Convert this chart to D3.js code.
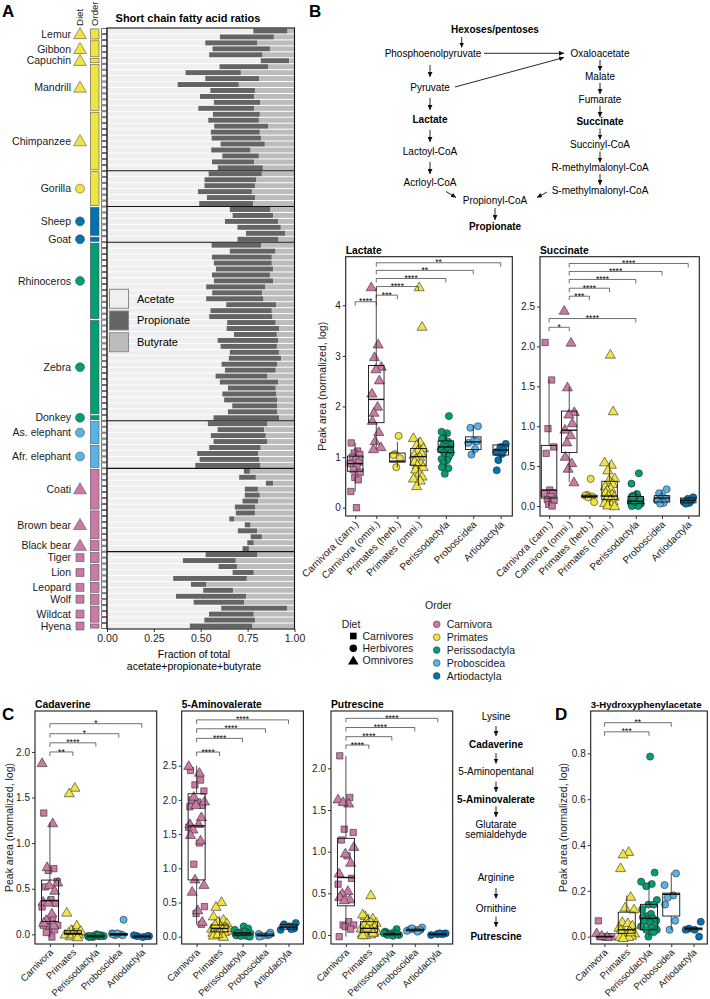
<!DOCTYPE html>
<html><head><meta charset="utf-8">
<script src="https://cdn.jsdelivr.net/npm/d3@7"></script>
<style>
body{margin:0;background:#fff;}
svg{font-family:"Liberation Sans", Arial, Helvetica, sans-serif;}
</style></head><body>
<svg id="fig" width="710" height="999"></svg>
<script>
// ================= DATA =================
// Panel A
const species = ["Lemur","Gibbon","Capuchin","Mandrill","Chimpanzee","Gorilla","Sheep","Goat","Rhinoceros","Zebra","Donkey","As. elephant","Afr. elephant","Coati","Brown bear","Black bear","Tiger","Lion","Leopard","Wolf","Wildcat","Hyena"];
const speciesSamples = [2,3,1,8,10,6,5,1,13,16,1,4,4,7,5,2,2,3,2,2,3,1];
const speciesOrder = ["Primates","Primates","Primates","Primates","Primates","Primates","Artiodactyla","Artiodactyla","Perissodactyla","Perissodactyla","Perissodactyla","Proboscidea","Proboscidea","Carnivora","Carnivora","Carnivora","Carnivora","Carnivora","Carnivora","Carnivora","Carnivora","Carnivora"];
const speciesDiet = ["Omnivores","Omnivores","Omnivores","Omnivores","Omnivores","Herbivores","Herbivores","Herbivores","Herbivores","Herbivores","Herbivores","Herbivores","Herbivores","Omnivores","Omnivores","Omnivores","Carnivores","Carnivores","Carnivores","Carnivores","Carnivores","Carnivores"];
const groupBreakAfter = ["Chimpanzee","Gorilla","Goat","Donkey","Afr. elephant","Black bear"];
const acetate = [0.78,0.602,0.524,0.563,0.545,0.82,0.60,0.419,0.524,0.377,0.551,0.496,0.570,0.487,0.565,0.54,0.572,0.554,0.558,0.606,0.556,0.615,0.56,0.591,
0.542,0.52,0.52,0.485,0.533,0.492,
0.655,0.67,0.629,0.696,0.741,0.696,
0.558,0.655,0.56,0.57,0.581,0.56,0.57,0.529,0.561,0.529,0.636,0.552,0.545,
0.641,0.638,0.677,0.59,0.606,0.655,0.65,0.611,0.629,0.579,0.602,0.645,0.615,0.625,0.668,0.645,
0.568,
0.538,0.59,0.554,0.568,0.545,0.481,0.494,0.471,
0.73,0.705,0.847,0.735,0.735,0.723,0.682,0.687,0.652,0.735,0.698,0.766,0.748,0.723,
0.526,0.405,0.595,0.67,0.353,0.448,0.513,0.368,0.462,0.609,0.544,0.519,0.442];
const propionate = [0.183,0.288,0.276,0.306,0.285,0.152,0.26,0.295,0.288,0.326,0.238,0.289,0.247,0.298,0.25,0.27,0.288,0.261,0.264,0.236,0.21,0.195,0.225,0.24,
0.284,0.277,0.269,0.288,0.257,0.288,
0.217,0.216,0.284,0.231,0.209,0.219,
0.264,0.244,0.319,0.309,0.305,0.309,0.316,0.316,0.267,0.306,0.266,0.327,0.338,
0.259,0.28,0.229,0.323,0.30,0.262,0.279,0.298,0.271,0.277,0.311,0.255,0.289,0.284,0.241,0.264,
0.35,
0.318,0.248,0.293,0.288,0.275,0.325,0.319,0.348,
0.032,0.089,0.039,0.07,0.08,0.083,0.11,0.102,0.028,0.031,0.103,0.06,0.035,0.034,
0.277,0.282,0.098,0.113,0.393,0.08,0.16,0.374,0.27,0.353,0.239,0.27,0.334];
const acidNames = ["Acetate","Propionate","Butyrate"];
const xTicksA = [0,0.25,0.5,0.75,1];

// Panel B
const bCats = ["Carnivora (carn.)","Carnivora (omni.)","Primates (herb.)","Primates (omni.)","Perissodactyla","Proboscidea","Artiodactyla"];
const bOrders = ["Carnivora","Carnivora","Primates","Primates","Perissodactyla","Proboscidea","Artiodactyla"];
const lactatePoints = [
 [0,"square",[1.28,1.12,1.08,1.05,1.0,0.95,0.9,0.87,0.82,0.75,0.7,0.6,0.55,0.32,0.0]],
 [1,"triangle",[4.36,3.23,2.98,2.79,2.74,2.52,2.26,2.0,1.88,1.72,1.5,1.32,1.2,1.16]],
 [2,"circle",[1.42,1.06,1.04,0.98,0.8]],
 [3,"triangle",[4.36,3.58,1.38,1.3,1.24,1.18,1.14,1.08,1.05,1.01,0.97,0.92,0.88,0.85,0.81,0.76,0.68,0.62,0.58,0.54,0.43]],
 [4,"circle",[1.81,1.5,1.47,1.37,1.36,1.3,1.27,1.24,1.22,1.2,1.17,1.15,1.14,1.09,1.08,1.05,1.01,0.96,0.94,0.88,0.8,0.78,0.67]],
 [5,"circle",[1.61,1.58,1.32,1.31,1.28,1.16,1.05]],
 [6,"circle",[1.26,1.2,1.14,1.1,1.06,0.94,0.74]]
];
const lactateBoxes = [[0.72,0.87,1.02,0.32,1.28],[1.68,2.14,2.81,1.16,4.36],[0.9,0.92,1.08,0.8,1.3],[0.83,1.01,1.17,0.43,1.38],[1.09,1.2,1.32,0.78,1.5],[1.15,1.3,1.4,1.05,1.63],[1.04,1.14,1.24,0.94,1.26]];
const lactateSig = [[0,1,4.07,"****"],[1,2,4.2,"***"],[1,3,4.37,"****"],[1,4,4.53,"****"],[1,5,4.69,"**"],[1,6,4.84,"**"]];
const succinatePoints = [
 [0,"square",[2.05,1.58,0.97,0.74,0.66,0.2,0.16,0.16,0.12,0.08,0.07,0.02,0.0]],
 [1,"triangle",[2.45,2.05,1.49,1.18,1.15,1.04,0.96,0.89,0.8,0.62,0.54,0.47,0.3]],
 [2,"circle",[0.34,0.14,0.13,0.12,0.11,0.05]],
 [3,"triangle",[1.9,1.19,0.55,0.52,0.45,0.35,0.33,0.28,0.25,0.22,0.2,0.17,0.15,0.13,0.12,0.1,0.08,0.06,0.04,0.02,0.01,0.0]],
 [4,"circle",[0.41,0.28,0.15,0.13,0.12,0.1,0.09,0.08,0.07,0.06,0.06,0.05,0.04,0.04,0.03,0.03,0.02,0.02,0.01,0.01,0.0,0.0,0.05,0.08,0.11]],
 [5,"circle",[0.21,0.16,0.12,0.09,0.07,0.04,0.03]],
 [6,"circle",[0.11,0.09,0.07,0.05,0.04,0.03]]
];
const succinateBoxes = [[0.1,0.2,0.76,0.0,1.58],[0.67,0.95,1.19,0.3,1.49],[0.11,0.12,0.135,0.1,0.14],[0.08,0.125,0.31,0.0,0.55],[0.03,0.06,0.12,0.0,0.2],[0.05,0.1,0.13,0.03,0.21],[0.04,0.07,0.1,0.03,0.11]];
const succinateSig = [[1,6,3.04,"****"],[1,5,2.94,"****"],[1,4,2.84,"****"],[1,3,2.73,"****"],[1,2,2.63,"***"],[0,4,2.35,"****"],[0,1,2.24,"*"]];

// Panel C / D
const cCats = ["Carnivora","Primates","Perissodactyla","Proboscidea","Artiodactyla"];
const cadaverinePoints = [
 [0,"square",[1.33,0.72,0.70,0.58,0.52,0.38,0.34,0.30,0.18,0.14,0.10,0.05,0.05,0.1,-0.03,0.02]],
 [0,"triangle",[1.88,1.22,0.74,0.57,0.54,0.48,0.36,0.23,0.16,0.13,0.1,0.35]],
 [1,"triangle",[1.61,1.55,0.24,0.1,0.05,0.03,0.02,0.01,0.0,0.0,-0.01,-0.02,0.04,0.0,-0.03]],
 [2,"circle",[0.0,-0.01,-0.02,-0.02,-0.03,-0.02,-0.01,-0.02,-0.03,-0.01,-0.02,-0.02]],
 [3,"circle",[0.16,0.01,0.0,-0.01,0.0,-0.01,0.01]],
 [4,"circle",[-0.02,-0.02,-0.03,-0.02,-0.01]]
];
const cadaverineBoxes = [[0.14,0.37,0.595,-0.03,1.23],[0.0,0.01,0.04,-0.03,0.1],[-0.03,-0.02,-0.01,-0.03,0.0],[-0.01,0.0,0.01,-0.01,0.01],[-0.03,-0.02,-0.02,-0.03,-0.01]];
const cadaverineSig = [[0,4,2.31,"*"],[0,3,2.2,"*"],[0,2,2.1,"****"],[0,1,2.0,"**"]];
const aminovaleratePoints = [
 [0,"square",[2.43,2.29,2.22,2.13,2.0,1.97,1.92,1.6,1.37,1.06,0.44,0.34,0.18,1.9]],
 [0,"triangle",[2.5,2.4,2.05,1.98,1.93,1.75,1.65,1.65,1.57,1.49,1.41,0.84,0.76,0.66,0.39,0.22]],
 [1,"triangle",[0.51,0.44,0.3,0.25,0.22,0.2,0.17,0.15,0.14,0.12,0.11,0.1,0.09,0.08,0.07,0.06,0.05,0.03,0.02,0.0,0.04,0.13,0.18]],
 [2,"circle",[0.15,0.12,0.1,0.08,0.06,0.05,0.04,0.04,0.03,0.03,0.02,0.02,0.01,0.01,0.0,0.05,0.07]],
 [3,"circle",[0.06,0.04,0.02,0.01,0.0,0.03]],
 [4,"circle",[0.2,0.18,0.15,0.12,0.1,0.11]]
];
const aminovalerateBoxes = [[0.83,1.62,2.09,0.18,2.5],[0.07,0.12,0.17,0.0,0.3],[0.02,0.04,0.06,0.0,0.1],[0.01,0.02,0.04,0.0,0.06],[0.11,0.14,0.18,0.1,0.2]];
const aminovalerateSig = [[0,4,3.17,"****"],[0,3,3.04,"****"],[0,2,2.9,"****"],[0,1,2.7,"****"]];
const putrescinePoints = [
 [0,"square",[2.15,1.65,1.27,1.23,1.14,0.95,0.68,0.61,0.16,0.12,0.12,0.1,0.07,-0.02]],
 [0,"triangle",[1.63,1.58,1.6,1.06,0.98,0.87,0.74,0.53,0.5,0.46,0.43,0.42]],
 [1,"triangle",[0.48,0.23,0.25,0.2,0.18,0.15,0.13,0.12,0.1,0.08,0.07,0.06,0.05,0.04,0.03,0.02,0.01,0.0,0.0,0.03,0.09]],
 [1,"circle",[0.16]],
 [2,"circle",[0.07,0.04,0.03,0.02,0.02,0.01,0.01,0.0,0.0,-0.01,0.01,0.02]],
 [3,"circle",[0.09,0.07,0.06,0.06,0.05,0.04,0.08]],
 [4,"circle",[0.02,0.01,0.01,0.0,0.02]]
];
const putrescineBoxes = [[0.35,0.69,1.16,-0.02,2.15],[0.03,0.08,0.16,0.0,0.25],[0.0,0.01,0.02,-0.01,0.04],[0.05,0.06,0.07,0.04,0.09],[0.0,0.01,0.015,0.0,0.02]];
const putrescineSig = [[0,4,2.6,"****"],[0,3,2.49,"****"],[0,2,2.38,"****"],[0,1,2.28,"****"]];
const hpaPoints = [
 [0,"square",[0.069,0.0,0.0,0.0,0.0,-0.002]],
 [0,"triangle",[0.016,0.0,0.005]],
 [1,"triangle",[0.371,0.36,0.30,0.175,0.128,0.12,0.065,0.06,0.05,0.04,0.025,0.02,0.015,0.01,0.005,0.0,0.0,-0.005,0.03,0.02]],
 [2,"circle",[0.786,0.28,0.24,0.23,0.22,0.16,0.14,0.14,0.12,0.1,0.09,0.085,0.08,0.075,0.07,0.065,0.06,0.05,0.045,0.04,0.03,0.03,0.0,0.02]],
 [3,"circle",[0.276,0.225,0.18,0.17,0.14,0.07,0.03]],
 [4,"circle",[0.065,0.035,0.03,0.0,0.03]]
];
const hpaBoxes = [[0.0,0.0,0.002,0.0,0.005],[0.015,0.03,0.107,0.0,0.18],[0.03,0.08,0.141,0.0,0.24],[0.09,0.185,0.19,0.03,0.28],[0.03,0.035,0.038,0.03,0.04]];
const hpaSig = [[0,3,0.934,"**"],[0,2,0.894,"***"]];

const dietKeys = ["Carnivores","Herbivores","Omnivores"];
const orderKeys = ["Carnivora","Primates","Perissodactyla","Proboscidea","Artiodactyla"];

// ================= STYLE / LAYOUT =================
const FONT = '"Liberation Sans", Arial, Helvetica, sans-serif';
const orderColors = {Carnivora:"#CC79A7",Primates:"#F0E442",Perissodactyla:"#009E73",Proboscidea:"#56B4E9",Artiodactyla:"#0072B2"};
const acidColors = ["#efefef","#646464","#bcbcbc"];
const dietShape = {Carnivores:"square",Herbivores:"circle",Omnivores:"triangle"};
const symType = {square:d3.symbolSquare,circle:d3.symbolCircle,triangle:d3.symbolTriangle};
const symSize = {square:40,circle:40,triangle:44};
const sym = (s,k=1)=>d3.symbol().type(symType[s]).size(symSize[s]*k)();
const J = [-0.22,0.14,-0.06,0.26,-0.16,0.04,0.2,-0.28,0.1,-0.1,0.28,-0.02,0.17,-0.24,0.07,-0.13];

const svg = d3.select("#fig").attr("font-family",FONT);

// panel letters
[["A",2,17],["B",309,17],["C",2,720],["D",555,720]].forEach(([t,x,y])=>{
  svg.append("text").attr("x",x).attr("y",y).attr("font-size",17).attr("font-weight","bold").text(t);
});

// ================= PANEL A =================
(function(){
  const L=107, R=294.5, T=28, B=629;
  const x = d3.scaleLinear().domain([0,1]).range([L,R]);
  const yRow = d3.scaleBand().domain(d3.range(acetate.length)).range([T,B]);
  const bw = yRow.bandwidth();
  const g = svg.append("g");
  acetate.forEach((a,i)=>{
    const p = propionate[i];
    const segs = [[0,a],[a,a+p],[a+p,1]];
    segs.forEach((s,k)=>{
      g.append("rect").attr("x",x(s[0])).attr("width",Math.max(0,x(s[1])-x(s[0])))
       .attr("y",yRow(i)+0.5).attr("height",bw-1).attr("fill",acidColors[k]);
    });
    g.append("rect").attr("x",101.7).attr("width",5.3).attr("y",yRow(i)+0.5).attr("height",bw-1)
      .attr("fill","#fff").attr("stroke","#333").attr("stroke-width",0.7);
  });
  let start=0;
  species.forEach((sp,si)=>{
    const n = speciesSamples[si];
    const y0 = yRow(start), y1 = yRow(start+n-1)+bw, yc=(y0+y1)/2;
    g.append("rect").attr("x",90.3).attr("width",8.7).attr("y",y0+0.9).attr("height",y1-y0-1.8)
     .attr("fill",orderColors[speciesOrder[si]]).attr("stroke","#555").attr("stroke-width",0.6);
    const sh = dietShape[speciesDiet[si]];
    g.append("path").attr("d",sym(sh,1.6)).attr("transform",`translate(80,${yc+(sh==="triangle"?1:0)})`)
     .attr("fill",orderColors[speciesOrder[si]]).attr("stroke","#555").attr("stroke-width",0.6);
    g.append("text").attr("x",71).attr("y",yc).attr("dy","0.35em").attr("text-anchor","end")
     .attr("font-size",10.5).attr("fill","#1a1a1a").text(sp);
    start += n;
    if(groupBreakAfter.includes(sp)){
      g.append("line").attr("x1",L).attr("x2",R).attr("y1",yRow(start)).attr("y2",yRow(start))
       .attr("stroke","#111").attr("stroke-width",1.1);
    }
  });
  g.append("rect").attr("x",L).attr("y",T).attr("width",R-L).attr("height",B-T).attr("fill","none").attr("stroke","#111").attr("stroke-width",1.1);
  [["Diet",80],["Order",94.5]].forEach(([t,xx])=>{
    g.append("text").attr("transform",`translate(${xx},26) rotate(-90)`).attr("dy","0.35em")
     .attr("font-size",9.6).attr("fill","#1a1a1a").text(t);
  });
  g.append("text").attr("x",188).attr("y",21.5).attr("text-anchor","middle").attr("font-size",11).attr("font-weight","bold").text("Short chain fatty acid ratios");
  const ax = g.append("g").attr("transform",`translate(0,${B})`).attr("font-family",FONT)
    .call(d3.axisBottom(x).tickValues(xTicksA).tickFormat(d3.format(".2f")).tickSize(3).tickPadding(3));
  ax.select(".domain").remove();
  ax.selectAll("line").attr("stroke","#333");
  ax.selectAll("text").attr("font-size",10.5).attr("fill","#222");
  g.append("text").attr("x",194).attr("y",658).attr("text-anchor","middle").attr("font-size",10.5).text("Fraction of total");
  g.append("text").attr("x",194).attr("y",669.5).attr("text-anchor","middle").attr("font-size",10.5).text("acetate+propionate+butyrate");
  acidNames.forEach((nm,k)=>{
    const yy = 289.3 + k*21.7;
    g.append("rect").attr("x",109.5).attr("y",yy).attr("width",19).attr("height",19).attr("fill",acidColors[k]).attr("stroke","#8a8a8a").attr("stroke-width",1);
    g.append("text").attr("x",137).attr("y",yy+9.5).attr("dy","0.35em").attr("font-size",11).text(nm);
  });
})();

// ================= PANEL B pathway =================
(function(){
  const g = svg.append("g").attr("font-size",10);
  svg.append("defs").append("marker").attr("id","ah").attr("viewBox","0 0 8 8").attr("refX",8).attr("refY",4)
    .attr("markerWidth",5).attr("markerHeight",5).attr("markerUnits","userSpaceOnUse").attr("orient","auto")
    .append("path").attr("d","M0,0L8,4L0,8z").attr("fill","#111");
  const labels = [["Hexoses/pentoses",495,29,1],["Phosphoenolpyruvate",433,53.3,0],["Oxaloacetate",600,53.3,0],["Pyruvate",430,87.3,0],
   ["Lactate",430,119,1],["Lactoyl-CoA",430,151,0],["Acrloyl-CoA",430,182.7,0],["Propionyl-CoA",495,200.7,0],["Propionate",495,226.7,1],
   ["Malate",600,76,0],["Fumarate",600,99,0],["Succinate",600,121.7,1],["Succinyl-CoA",600,144.7,0],["R-methylmalonyl-CoA",600,167.3,0],["S-methylmalonyl-CoA",600,190.3,0]];
  labels.forEach(([t,x,y,b])=>g.append("text").attr("x",x).attr("y",y).attr("dy","0.35em").attr("text-anchor","middle").attr("font-weight",b?"bold":"normal").text(t));
  const arrows = [[461.7,37,461.7,47.5],[484,53.3,564,53.3],[430,65,430,77],[455,87,564,57.5],[430,98,430,110],[430,130,430,142],[430,162,430,174],
    [446,191.5,456,197.5],[547,192,537,197.5],[495,208,495,220],[600,60,600,71],[600,83,600,94],[600,106,600,117],[600,128.5,600,139.5],[600,151.5,600,162.5],[600,174,600,185]];
  arrows.forEach(([x1,y1,x2,y2])=>g.append("line").attr("x1",x1).attr("y1",y1).attr("x2",x2).attr("y2",y2).attr("stroke","#111").attr("stroke-width",0.9).attr("marker-end","url(#ah)"));
})();

// ================= Box panels =================
function drawPanel(cfg){
  const {l,t,r,b} = cfg.frame;
  const y = d3.scaleLinear().domain(cfg.yDomain).range([b,t]);
  const pos = cfg.pos;
  const G = svg.append("g");
  G.append("text").attr("x",l).attr("y",t-3).attr("font-size",cfg.tfs||10.3).attr("font-weight","bold").text(cfg.title);
  cfg.points.forEach((grp,gi)=>{
    const [ci,shape,vals] = grp;
    vals.forEach((v,k)=>{
      const jx = J[(k+gi*7)%J.length]*cfg.jw;
      G.append("path").attr("d",sym(shape)).attr("transform",`translate(${pos(ci)+jx},${y(v)+(shape==="triangle"?0.8:0)})`)
       .attr("fill",orderColors[cfg.orders[ci]]).attr("stroke","#2b2b2b").attr("stroke-width",0.6);
    });
  });
  cfg.boxes.forEach((bx,i)=>{
    const [q1,med,q3,lo,hi] = bx; const cx = pos(i), w = cfg.bw;
    G.append("line").attr("x1",cx).attr("x2",cx).attr("y1",y(q3)).attr("y2",y(hi)).attr("stroke","#222").attr("stroke-width",0.8);
    G.append("line").attr("x1",cx).attr("x2",cx).attr("y1",y(q1)).attr("y2",y(lo)).attr("stroke","#222").attr("stroke-width",0.8);
    G.append("rect").attr("x",cx-w/2).attr("y",y(q3)).attr("width",w).attr("height",Math.max(0.6,y(q1)-y(q3)))
      .attr("fill","none").attr("stroke","#111").attr("stroke-width",0.9);
    G.append("line").attr("x1",cx-w/2).attr("x2",cx+w/2).attr("y1",y(med)).attr("y2",y(med)).attr("stroke","#111").attr("stroke-width",1.4);
  });
  G.append("rect").attr("x",l).attr("y",t).attr("width",r-l).attr("height",b-t).attr("fill","none").attr("stroke","#1a1a1a").attr("stroke-width",1.1);
  const ya = G.append("g").attr("transform",`translate(${l},0)`).attr("font-family",FONT)
    .call(d3.axisLeft(y).tickValues(cfg.yTicks).tickFormat(cfg.fmt).tickSize(3).tickPadding(2));
  ya.select(".domain").remove();
  ya.selectAll("line").attr("stroke","#333");
  ya.selectAll("text").attr("font-size",10).attr("fill","#222");
  const xa = G.append("g").attr("transform",`translate(0,${b})`).attr("font-family",FONT).call(cfg.xAxis.tickSize(3));
  xa.select(".domain").remove();
  xa.selectAll("line").attr("stroke","#333");
  xa.selectAll("text").attr("font-size",cfg.xfs).attr("fill","#222").attr("y",0).attr("x",0).attr("dy","0.35em")
    .attr("transform","translate(1,6.5) rotate(-45)").attr("text-anchor","end");
  cfg.sig.forEach(([a,bb,v,lab])=>{
    const x1=pos(a), x2=pos(bb), yy=y(v);
    G.append("path").attr("d",`M${x1},${yy+4}V${yy}H${x2}V${yy+4}`).attr("fill","none").attr("stroke","#111").attr("stroke-width",0.6);
    G.append("text").attr("x",(x1+x2)/2).attr("y",yy+2.6).attr("text-anchor","middle").attr("font-size",8.5).text(lab);
  });
  if(cfg.ylab){
    G.append("text").attr("transform",`translate(${cfg.ylab},${(t+b)/2}) rotate(-90)`).attr("dy","0.35em")
      .attr("text-anchor","middle").attr("font-size",10.5).attr("fill","#1a1a1a").text("Peak area (normalized, log)");
  }
}

const bSlots = [0,1,2,3,4.3,5.6,6.9];
function bPanel(frame,title,yDomain,yTicks,fmt,points,boxes,sig,ylab){
  const xs = d3.scaleLinear().domain([-0.45,7.45]).range([frame.l,frame.r]);
  drawPanel({frame,title,yDomain,yTicks,fmt,points,boxes,sig,ylab,orders:bOrders,
    pos:i=>xs(bSlots[i]),bw:15.5,jw:18,xfs:10,
    xAxis:d3.axisBottom(xs).tickValues(bSlots).tickFormat((d,i)=>bCats[i])});
}
bPanel({l:345.7,t:256.7,r:512.3,b:516},"Lactate",[-0.164,4.96],[0,1,2,3,4],d3.format("d"),lactatePoints,lactateBoxes,lactateSig,322);
bPanel({l:540,t:256.7,r:699.3,b:516},"Succinate",[-0.125,3.125],[0,0.5,1,1.5,2,2.5],d3.format(".1f"),succinatePoints,succinateBoxes,succinateSig,null);

function cPanel(frame,title,yDomain,yTicks,points,boxes,sig,ylab,pad,tfs){
  const xs = d3.scalePoint().domain(cCats).range([frame.l,frame.r]).padding(pad);
  drawPanel({frame,title,yDomain,yTicks,fmt:d3.format(".1f"),points,boxes,sig,ylab,orders:cCats,tfs,
    pos:i=>xs(cCats[i]),bw:17,jw:28,xfs:9.6,xAxis:d3.axisBottom(xs)});
}
cPanel({l:35,t:711,r:156.7,b:944},"Cadaverine",[-0.106,2.449],[0,0.5,1,1.5,2],cadaverinePoints,cadaverineBoxes,cadaverineSig,9,0.65);
cPanel({l:181.7,t:711,r:303.4,b:944},"5-Aminovalerate",[-0.107,3.30],[0,0.5,1,1.5,2,2.5],aminovaleratePoints,aminovalerateBoxes,aminovalerateSig,null,0.65);
cPanel({l:331,t:711,r:452.7,b:944},"Putrescine",[-0.108,2.688],[0,0.5,1,1.5,2],putrescinePoints,putrescineBoxes,putrescineSig,null,0.65);
cPanel({l:590.7,t:711,r:707.3,b:944},"3-Hydroxyphenylacetate",[-0.032,0.985],[0,0.2,0.4,0.6,0.8],hpaPoints,hpaBoxes,hpaSig,563,0.62,9.6);

// ================= Panel C pathway =================
(function(){
  const g = svg.append("g").attr("font-size",10);
  const labels = [["Lysine",716,0],["Cadaverine",744.3,1],["5-Aminopentanal",771.7,0],["5-Aminovalerate",799,1],["Glutarate",824.5,0],["semialdehyde",834,0],
    ["Arginine",877.7,0],["Ornithine",908.3,0],["Putrescine",936.7,1]];
  labels.forEach(([t,y,b])=>g.append("text").attr("x",496).attr("y",y).attr("dy","0.35em").attr("text-anchor","middle").attr("font-weight",b?"bold":"normal").text(t));
  [[726,736],[753,763.5],[781.5,792],[806.5,817],[888,898.5],[916.5,927]].forEach(([a,b])=>
    g.append("line").attr("x1",496).attr("x2",496).attr("y1",a).attr("y2",b).attr("stroke","#111").attr("stroke-width",0.9).attr("marker-end","url(#ah)"));
})();

// ================= Legend =================
(function(){
  const g = svg.append("g").attr("font-size",10.5).attr("fill","#1a1a1a");
  g.append("text").attr("x",341.7).attr("y",624.3).attr("dy","0.35em").text("Diet");
  dietKeys.forEach((d,i)=>{
    const yy = 636 + i*12.35;
    g.append("path").attr("d",sym(dietShape[d],1.1)).attr("transform",`translate(353.3,${yy+(d==="Omnivores"?0.8:0)})`).attr("fill","#000");
    g.append("text").attr("x",362.5).attr("y",yy).attr("dy","0.35em").text(d);
  });
  g.append("text").attr("x",425).attr("y",605.7).attr("dy","0.35em").text("Order");
  orderKeys.forEach((d,i)=>{
    const yy = 624.3 + i*12.9;
    g.append("circle").attr("cx",436.7).attr("cy",yy).attr("r",3.4).attr("fill",orderColors[d]).attr("stroke","#444").attr("stroke-width",0.6);
    g.append("text").attr("x",446.7).attr("y",yy).attr("dy","0.35em").text(d);
  });
})();
</script></body></html>
